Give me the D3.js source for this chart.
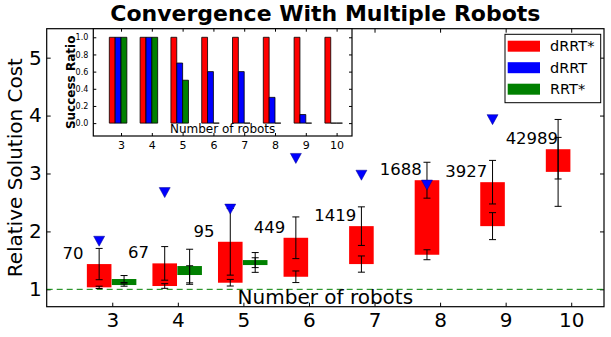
<!DOCTYPE html>
<html>
<head>
<meta charset="utf-8">
<script src="https://cdn.jsdelivr.net/npm/d3@7"></script>
<style>
  body { margin: 0; background: #fff; }
  svg { display: block; font-family: "DejaVu Sans", sans-serif; }
</style>
</head>
<body>
<svg id="chart" width="611" height="337"></svg>
<script>
// number of robots on the x axis
var robots = [3, 4, 5, 6, 7, 8, 9, 10];

// dRRT*: lower / upper cost bound with their spread
var drrtStarLow = [1.034, 1.057, 1.114, 1.217, 1.436, 1.597, 2.091, 3.028];
var drrtStarHigh = [1.436, 1.448, 1.821, 1.890, 2.091, 2.884, 2.850, 3.419];
var drrtStarLowStd = [0.02, 0.04, 0.057, 0.10, 0.14, 0.086, 0.233, 0.595];
var drrtStarHighStd = [0.27, 0.29, 0.576, 0.36, 0.333, 0.31, 0.376, 0.514];
var iterations = [70, 67, 95, 449, 1419, 1688, 3927, 42989];

// dRRT: final cost (none for 10 robots)
var drrtCost = [1.83, 2.67, 2.385, 3.26, 2.97, 2.80, 3.93, null];

// RRT*: only solved up to 5 robots
var rrtStarRobots = [3, 4, 5];
var rrtStarLow = [1.074, 1.247, 1.419];
var rrtStarHigh = [1.178, 1.402, 1.505];
var rrtStarLowStd = [0.02, 0.16, 0.126];
var rrtStarHighStd = [0.06, 0.29, 0.13];

// inset: success ratio
var successDrrtStar = [1, 1, 1, 1, 1, 1, 1, 1];
var successDrrt = [1, 1, 0.7, 0.6, 0.6, 0.3, 0.1, 0];
var successRrtStar = [1, 1, 0.5, 0, 0, 0, 0, 0];

var yTicks = [1, 2, 3, 4, 5];
var insetYTicks = [0, 0.2, 0.4, 0.6, 0.8, 1.0];
var legendNames = ['dRRT*', 'dRRT', 'RRT*'];
var colors = ['#ff0000', '#0000ff', '#008000'];

var width = 611, height = 337;
var plot = {left: 46.7, right: 604, top: 28.7, bottom: 306.7};
var inset = {left: 93.3, right: 352, top: 28.7, bottom: 136};
var font = '"DejaVu Sans", sans-serif';

var svg = d3.select('#chart');

svg.append('rect').attr('width', width).attr('height', height).attr('fill', '#fff');

var x = d3.scaleLinear().domain([2, 10.5]).range([plot.left, plot.right]);
var y = d3.scaleLinear().domain([0.7, 5.5]).range([plot.bottom, plot.top]);

function styleAxis(g, size) {
    g.attr('font-size', size).attr('font-family', font);
    g.select('.domain').remove();
    g.selectAll('.tick line').attr('stroke', '#000');
    g.selectAll('.tick text').attr('fill', '#000');
}

// axes, ticks inward on all four sides
svg.append('g')
    .attr('transform', 'translate(0,' + plot.bottom + ')')
    .call(d3.axisBottom(x).tickValues(robots).tickSize(-4).tickPadding(6).tickFormat(d3.format('d')))
    .call(styleAxis, 20);
svg.append('g')
    .attr('transform', 'translate(0,' + plot.top + ')')
    .call(d3.axisTop(x).tickValues(robots).tickSize(-4).tickFormat(''))
    .call(styleAxis, 20);
svg.append('g')
    .attr('transform', 'translate(' + plot.left + ',0)')
    .call(d3.axisLeft(y).tickValues(yTicks).tickSize(-4).tickPadding(5).tickFormat(d3.format('d')))
    .call(styleAxis, 20);
svg.append('g')
    .attr('transform', 'translate(' + plot.right + ',0)')
    .call(d3.axisRight(y).tickValues(yTicks).tickSize(-4).tickFormat(''))
    .call(styleAxis, 20);

// optimal cost reference
svg.append('line')
    .attr('x1', plot.left).attr('x2', plot.right)
    .attr('y1', y(1)).attr('y2', y(1))
    .attr('stroke', '#008000').attr('stroke-dasharray', '6,4');

var boxW = 0.375;

var drrtStar = robots.map(function(n, i) {
    return {c: n - 0.2, lo: drrtStarLow[i], hi: drrtStarHigh[i],
            loStd: drrtStarLowStd[i], hiStd: drrtStarHighStd[i], it: iterations[i], n: n};
});
var rrtStar = rrtStarRobots.map(function(n, i) {
    return {c: n + 0.18, lo: rrtStarLow[i], hi: rrtStarHigh[i],
            loStd: rrtStarLowStd[i], hiStd: rrtStarHighStd[i]};
});

function drawBoxes(data, color) {
    svg.append('g').selectAll('rect')
        .data(data)
        .enter()
        .append('rect')
            .attr('x', function(d) { return x(d.c - boxW / 2); })
            .attr('width', function(d) { return x(d.c + boxW / 2) - x(d.c - boxW / 2); })
            .attr('y', function(d) { return y(d.hi); })
            .attr('height', function(d) { return y(d.lo) - y(d.hi); })
            .attr('fill', color);
}

function drawErrors(data) {
    var bars = [];
    data.forEach(function(d) {
        bars.push({c: d.c, v: d.hi, s: d.hiStd});
        bars.push({c: d.c, v: d.lo, s: d.loStd});
    });
    var g = svg.append('g').attr('stroke', '#000').attr('stroke-width', 1);
    bars.forEach(function(b) {
        var cx = x(b.c);
        g.append('line').attr('x1', cx).attr('x2', cx).attr('y1', y(b.v - b.s)).attr('y2', y(b.v + b.s));
        [b.v - b.s, b.v + b.s].forEach(function(v) {
            g.append('line').attr('x1', cx - 3.5).attr('x2', cx + 3.5).attr('y1', y(v)).attr('y2', y(v));
        });
    });
}

drawBoxes(drrtStar, colors[0]);
drawBoxes(rrtStar, colors[2]);
drawErrors(drrtStar);
drawErrors(rrtStar);

// dRRT cost markers
svg.append('g').selectAll('path')
    .data(robots.map(function(n, i) { return {c: n - 0.2, v: drrtCost[i]}; })
        .filter(function(d) { return d.v !== null; }))
    .enter()
    .append('path')
        .attr('d', function(d) {
            var cx = x(d.c), cy = y(d.v);
            return 'M' + (cx - 5.5) + ',' + (cy - 5) + 'L' + (cx + 5.5) + ',' + (cy - 5) + 'L' + cx + ',' + (cy + 5) + 'Z';
        })
        .attr('fill', colors[1])
        .attr('stroke', '#00008b')
        .attr('stroke-width', 0.5);

// iteration counts above each dRRT* box
svg.append('g').selectAll('text')
    .data(drrtStar)
    .enter()
    .append('text')
        .attr('x', function(d) { return x(d.n - 0.6); })
        .attr('y', function(d) { return y(d.hi) - 10.5; })
        .attr('text-anchor', 'middle')
        .attr('dominant-baseline', 'central')
        .attr('font-size', 16.5)
        .text(function(d) { return d.it; });

svg.append('text')
    .attr('x', (plot.left + plot.right) / 2).attr('y', 303.5)
    .attr('text-anchor', 'middle').attr('font-size', 20)
    .text('Number of robots');

svg.append('text')
    .attr('transform', 'translate(21.7,' + (plot.top + plot.bottom) / 2 + ') rotate(-90)')
    .attr('text-anchor', 'middle').attr('font-size', 20)
    .text('Relative Solution Cost');

svg.append('text')
    .attr('x', (plot.left + plot.right) / 2).attr('y', 20.7)
    .attr('text-anchor', 'middle').attr('font-size', 22).attr('font-weight', 'bold')
    .text('Convergence With Multiple Robots');

svg.append('rect')
    .attr('x', plot.left).attr('y', plot.top)
    .attr('width', plot.right - plot.left).attr('height', plot.bottom - plot.top)
    .attr('fill', 'none').attr('stroke', '#000').attr('stroke-width', 1.2);

// ---- inset: success ratio ----
var ix = d3.scaleLinear().domain([2.1, 10.5]).range([inset.left, inset.right]);
var iy = d3.scaleLinear().domain([-0.15, 1.1]).range([inset.bottom, inset.top]);

svg.append('rect')
    .attr('x', inset.left).attr('y', inset.top)
    .attr('width', inset.right - inset.left).attr('height', inset.bottom - inset.top)
    .attr('fill', '#fff');

var barW = 0.19;
var series = [successDrrtStar, successDrrt, successRrtStar];
series.forEach(function(vals, s) {
    svg.append('g').selectAll('path')
        .data(robots.map(function(n, i) { return {x0: n - 0.38 + s * barW, v: vals[i]}; }))
        .enter()
        .append('path')
            .attr('d', function(d) {
                var x0 = ix(d.x0), x1 = ix(d.x0 + barW), y0 = iy(0), y1 = iy(d.v);
                return 'M' + x0 + ',' + y0 + 'V' + y1 + 'H' + x1 + 'V' + y0 + 'Z';
            })
            .attr('fill', colors[s])
            .attr('stroke', '#000')
            .attr('stroke-width', 0.8);
});

svg.append('g')
    .attr('transform', 'translate(0,' + inset.bottom + ')')
    .call(d3.axisBottom(ix).tickValues(robots).tickSize(-3).tickPadding(5).tickFormat(d3.format('d')))
    .call(styleAxis, 11);
svg.append('g')
    .attr('transform', 'translate(0,' + inset.top + ')')
    .call(d3.axisTop(ix).tickValues(robots).tickSize(-3).tickFormat(''))
    .call(styleAxis, 11);
svg.append('g')
    .attr('transform', 'translate(' + inset.left + ',0)')
    .call(d3.axisLeft(iy).tickValues(insetYTicks).tickSize(-3).tickPadding(5).tickFormat(d3.format('.1f')))
    .call(styleAxis, 8);
svg.append('g')
    .attr('transform', 'translate(' + inset.right + ',0)')
    .call(d3.axisRight(iy).tickValues(insetYTicks).tickSize(-3).tickFormat(''))
    .call(styleAxis, 8);

svg.append('text')
    .attr('x', (inset.left + inset.right) / 2).attr('y', 133)
    .attr('text-anchor', 'middle').attr('font-size', 12)
    .text('Number of robots');

svg.append('text')
    .attr('transform', 'translate(75,' + (inset.top + inset.bottom) / 2 + ') rotate(-90)')
    .attr('text-anchor', 'middle').attr('font-size', 12).attr('font-weight', 'bold')
    .text('Success Ratio');

svg.append('rect')
    .attr('x', inset.left).attr('y', inset.top)
    .attr('width', inset.right - inset.left).attr('height', inset.bottom - inset.top)
    .attr('fill', 'none').attr('stroke', '#000').attr('stroke-width', 1.2);

// ---- legend ----
var legend = svg.append('g').attr('transform', 'translate(505,34.3)');
legend.append('rect')
    .attr('width', 95.7).attr('height', 68.4)
    .attr('fill', '#fff').attr('stroke', '#000').attr('stroke-width', 1);
var entry = legend.selectAll('g.entry')
    .data(legendNames)
    .enter()
    .append('g')
        .attr('class', 'entry')
        .attr('transform', function(d, i) { return 'translate(0,' + (11.9 + i * 21.5) + ')'; });
entry.append('rect')
    .attr('x', 2.7).attr('y', -5.5).attr('width', 32.3).attr('height', 11)
    .attr('fill', function(d, i) { return colors[i]; });
entry.append('text')
    .attr('x', 45).attr('dominant-baseline', 'central')
    .attr('font-size', 14.5)
    .text(function(d) { return d; });
</script>
</body>
</html>
